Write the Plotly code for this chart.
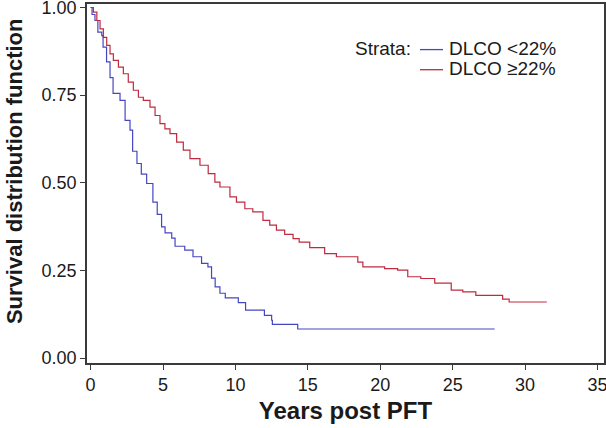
import plotly.graph_objects as go

# Kaplan-Meier curves
low_t = [0, 0.1, 0.3, 0.5, 0.77, 0.86, 1.1, 1.34, 1.55, 2.03, 2.38, 2.72, 2.9, 3.2, 3.5,
         3.87, 4.3, 4.6, 4.9, 5.14, 5.6, 5.83, 6.5, 7.07, 7.66, 8.1, 8.35, 8.6, 8.93, 9.3,
         10.2, 10.7, 12.0, 12.5, 12.55, 14.3, 27.9]
low_s = [1.0, 0.98, 0.963, 0.93, 0.92, 0.887, 0.845, 0.80, 0.755, 0.735, 0.678, 0.65, 0.59,
         0.555, 0.525, 0.498, 0.445, 0.41, 0.374, 0.357, 0.342, 0.319, 0.308, 0.289, 0.27,
         0.26, 0.228, 0.203, 0.185, 0.172, 0.158, 0.137, 0.122, 0.108, 0.096, 0.083, 0.083]

high_t = [0, 0.19, 0.43, 0.65, 0.88, 1.11, 1.34, 1.57, 1.92, 2.26, 2.6, 2.95, 3.3, 3.64, 4.1,
          4.45, 4.79, 5.13, 5.48, 5.94, 6.4, 6.86, 7.55, 8.12, 8.58, 8.93, 9.62, 10.07, 10.65,
          11.2, 11.9, 12.37, 12.83, 13.4, 13.98, 14.4, 15.13, 16.16, 16.97, 18.45, 18.8, 20.3,
          21.2, 21.9, 22.8, 23.76, 24.9, 25.7, 26.6, 28.45, 28.9, 31.5]
high_s = [1.0, 0.987, 0.963, 0.939, 0.915, 0.892, 0.868, 0.849, 0.83, 0.811, 0.787, 0.764,
          0.744, 0.735, 0.716, 0.692, 0.669, 0.654, 0.640, 0.616, 0.593, 0.569, 0.55, 0.526,
          0.502, 0.488, 0.46, 0.445, 0.426, 0.417, 0.393, 0.379, 0.365, 0.353, 0.341, 0.331,
          0.315, 0.298, 0.289, 0.274, 0.26, 0.255, 0.251, 0.232, 0.227, 0.214, 0.194, 0.189,
          0.179, 0.168, 0.160, 0.160]

series_names = ["DLCO <22%", "DLCO ≥22%"]
legend_title = "Strata:"

x_ticks = [0, 5, 10, 15, 20, 25, 30, 35]
y_ticks = [0.0, 0.25, 0.5, 0.75, 1.0]
y_tick_labels = ["0.00", "0.25", "0.50", "0.75", "1.00"]

BLUE = "#4646c4"
RED = "#bf2a3e"
colors = [BLUE, RED]

fig = go.Figure()
for t, s, name, c in zip([low_t, high_t], [low_s, high_s], series_names, colors):
    fig.add_trace(go.Scatter(x=t, y=s, mode="lines", line=dict(color=c, width=1.2, shape="hv"),
                             name=name, showlegend=False))

axis_common = dict(showgrid=False, zeroline=False, showline=True, linecolor="#3a3a3a", linewidth=1.5,
                   mirror=True, ticks="outside", ticklen=5, tickwidth=1.3, tickcolor="#3a3a3a",
                   automargin=False, ticklabeloverflow="allow",
                   tickfont=dict(family="Liberation Sans, Arial", size=18, color="#1a1a1a"))

fig.update_layout(
    width=606, height=428,
    margin=dict(l=87, r=2, t=4, b=65),
    paper_bgcolor="white", plot_bgcolor="white",
    font=dict(family="Liberation Sans, Arial", color="#1a1a1a"),
    xaxis=dict(range=[-0.25, 35.45], tickvals=x_ticks,
               title=dict(text="<b>Years post PFT</b>", font=dict(size=24), standoff=8),
               **axis_common),
    yaxis=dict(range=[-0.014, 1.01], tickvals=y_ticks, ticktext=y_tick_labels,
               **axis_common),
)

# Y axis title (placed as in the reference, slightly above plot centre)
fig.add_annotation(xref="paper", yref="paper", x=-0.139, y=0.535, text="<b>Survival distribution function</b>",
                   textangle=-90, showarrow=False, xanchor="center", yanchor="middle",
                   font=dict(family="Liberation Sans, Arial", size=22, color="#1a1a1a"))

# Manual legend (keys + labels) in paper coordinates
leg_font = dict(family="Liberation Sans, Arial", size=19, color="#1a1a1a")
fig.add_annotation(xref="paper", yref="paper", x=0.5145, y=0.877, text=legend_title,
                   showarrow=False, xanchor="left", yanchor="middle", font=leg_font)
row_y = [0.877, 0.821]
for name, c, yy in zip(series_names, colors, row_y):
    fig.add_shape(type="line", xref="paper", yref="paper", x0=0.644, x1=0.6886, y0=yy - 0.004, y1=yy - 0.004,
                  line=dict(color=c, width=1.3))
    fig.add_annotation(xref="paper", yref="paper", x=0.6965, y=yy, text=name,
                       showarrow=False, xanchor="left", yanchor="middle", font=leg_font)

fig.write_html("out.html", config={"displayModeBar": False},
               post_script="document.body.style.margin='0';document.body.style.padding='0';")
